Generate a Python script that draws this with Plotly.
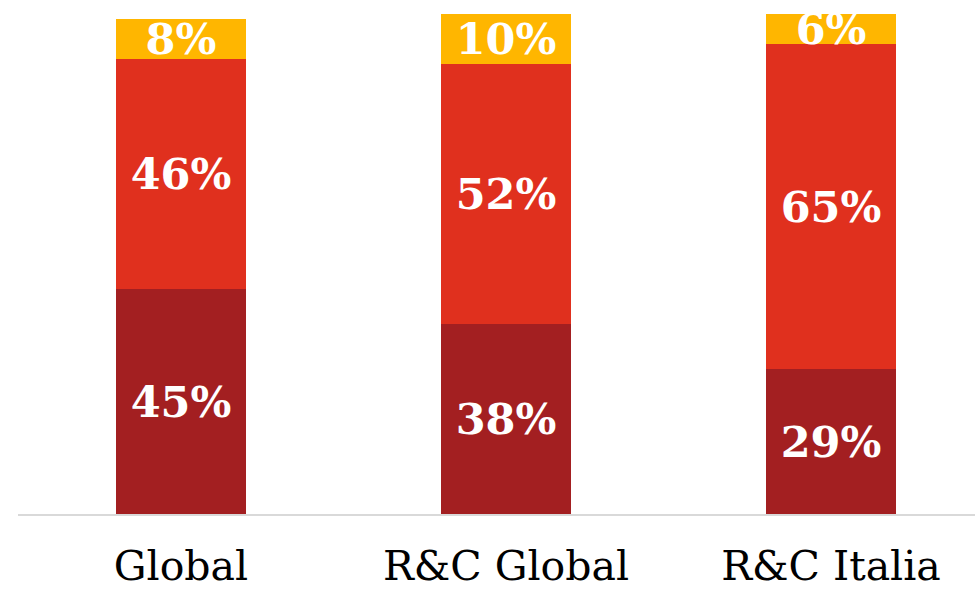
import plotly.graph_objects as go

categories = ["Global", "R&C Global", "R&C Italia"]
bottom_share = [45, 38, 29]
middle_share = [46, 52, 65]
top_share = [8, 10, 6]

series = [
    (bottom_share, "#A31F21"),
    (middle_share, "#E0301E"),
    (top_share, "#FFB600"),
]

label_font = dict(family="DejaVu Serif", size=43, color="white", weight="bold")

fig = go.Figure()
for values, color in series:
    fig.add_trace(go.Bar(
        x=categories,
        y=values,
        width=0.4,
        marker=dict(color=color, line=dict(width=0)),
        texttemplate="%{y}%",
        textposition="inside",
        insidetextanchor="middle",
        constraintext="none",
        textangle=0,
        insidetextfont=label_font,
        hoverinfo="skip",
    ))

fig.update_layout(
    barmode="stack",
    width=975,
    height=591,
    margin=dict(l=18, r=0, t=0, b=77),
    paper_bgcolor="white",
    plot_bgcolor="white",
    showlegend=False,
    xaxis=dict(
        range=[-0.5015, 2.443],
        automargin=False,
        showline=True,
        linecolor="#D9D9D9",
        linewidth=2,
        showgrid=False,
        ticks="",
        ticklabelstandoff=15,
        tickfont=dict(family="DejaVu Serif", size=41, color="black"),
    ),
    yaxis=dict(
        range=[0, 102.8],
        visible=False,
        automargin=False,
        showgrid=False,
        zeroline=False,
    ),
)

fig.write_html("out.html")
